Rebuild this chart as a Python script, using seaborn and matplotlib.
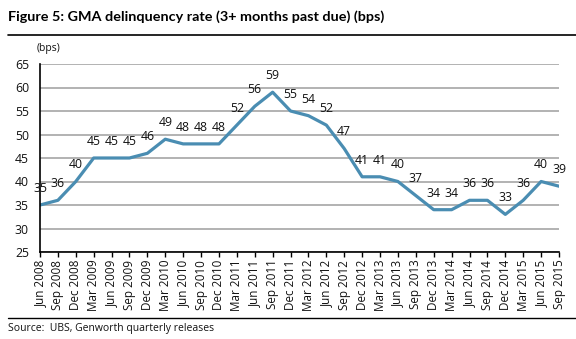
import matplotlib
matplotlib.use("Agg")
import matplotlib.pyplot as plt
import seaborn as sns
import numpy as np
import pandas as pd
from matplotlib.lines import Line2D

quarters = [
    "Jun 2008", "Sep 2008", "Dec 2008", "Mar 2009", "Jun 2009", "Sep 2009",
    "Dec 2009", "Mar 2010", "Jun 2010", "Sep 2010", "Dec 2010", "Mar 2011",
    "Jun 2011", "Sep 2011", "Dec 2011", "Mar 2012", "Jun 2012", "Sep 2012",
    "Dec 2012", "Mar 2013", "Jun 2013", "Sep 2013", "Dec 2013", "Mar 2014",
    "Jun 2014", "Sep 2014", "Dec 2014", "Mar 2015", "Jun 2015", "Sep 2015",
]
delinquency_bps = [
    35, 36, 40, 45, 45, 45, 46, 49, 48, 48, 48, 52, 56, 59, 55,
    54, 52, 47, 41, 41, 40, 37, 34, 34, 36, 36, 33, 36, 40, 39,
]
y_ticks = [25, 30, 35, 40, 45, 50, 55, 60, 65]

sns.set_theme(style="white")
plt.rcParams["font.family"] = ["Open Sans", "DejaVu Sans"]

W, H = 576, 339
fig = plt.figure(figsize=(W / 100, H / 100), dpi=100)
ax = fig.add_axes([40 / W, 1 - 252 / H, (559 - 40) / W, (252 - 64) / H])

df = pd.DataFrame({"pos": np.arange(len(quarters)), "bps": delinquency_bps})
sns.lineplot(data=df, x="pos", y="bps", ax=ax, color="#4a8db2", linewidth=2.3)

for x, v in zip(df["pos"], df["bps"]):
    ax.annotate(str(v), (x, v), xytext=(0, 12), textcoords="offset points",
                ha="center", va="center", fontsize=8.8, color="#111111")

ax.set_xlim(0, len(quarters) - 1)
ax.set_ylim(25, 65)
ax.set_yticks(y_ticks)
ax.set_xticks(df["pos"])
ax.set_xticklabels(quarters, rotation=90, fontsize=8.4, color="#111111")
ax.set_yticklabels([str(t) for t in y_ticks], fontsize=8.8, color="#111111")
ax.set_xlabel("")
ax.set_ylabel("")
ax.yaxis.grid(True, color="#a6a6a6", linewidth=1.2)
ax.xaxis.grid(False)
ax.tick_params(axis="y", length=0, pad=8)
ax.tick_params(axis="x", direction="out", length=3.5, width=1, color="black",
               pad=2, bottom=True)
for side in ["top", "right"]:
    ax.spines[side].set_visible(False)
for side in ["left", "bottom"]:
    ax.spines[side].set_color("black")
    ax.spines[side].set_linewidth(1.2)

fig.text(8 / W, 1 - 17 / H, "Figure 5: GMA delinquency rate (3+ months past due) (bps)",
         fontsize=10.4, fontweight="bold", family=["Lato", "DejaVu Sans"],
         ha="left", va="center", color="black")
fig.add_artist(Line2D([8 / W, 1], [1 - 35 / H] * 2, color="black", linewidth=1.2))
fig.text(37 / W, 1 - 48 / H, "(bps)", fontsize=7.5, ha="left", va="center", color="#111111")
fig.add_artist(Line2D([8 / W, 1], [1 - 318 / H] * 2, color="black", linewidth=1.0))
fig.text(8 / W, 1 - 329 / H, "Source:  UBS, Genworth quarterly releases",
         fontsize=7.5, ha="left", va="center", color="#111111")

fig.savefig("out.png", dpi=100, facecolor="white")
